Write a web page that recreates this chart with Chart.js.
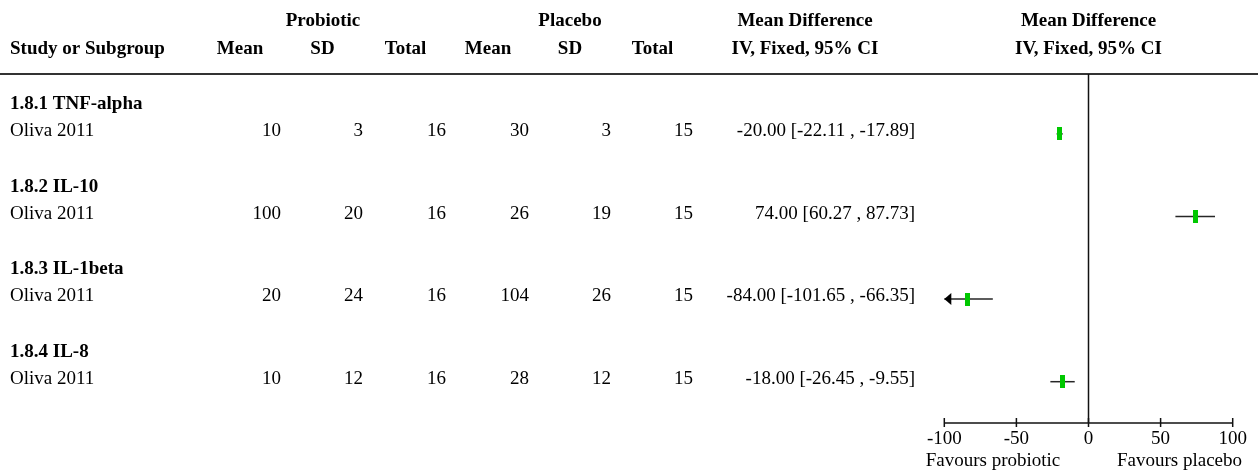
<!DOCTYPE html>
<html><head><meta charset="utf-8">
<script src="https://cdn.jsdelivr.net/npm/chart.js@4.4.1/dist/chart.umd.min.js"></script>
<style>
html,body{margin:0;padding:0;background:#fff}
#wrap{position:relative;width:1258px;height:472px}
</style>
</head><body>
<div id="wrap"><canvas id="c"></canvas></div>
<script>
// ---- data ----
const subgroups = ['1.8.1 TNF-alpha', '1.8.2 IL-10', '1.8.3 IL-1beta', '1.8.4 IL-8'];
const studies = ['Oliva 2011', 'Oliva 2011', 'Oliva 2011', 'Oliva 2011'];
const probMean = [10, 100, 20, 10];
const probSD = [3, 20, 24, 12];
const probTotal = [16, 16, 16, 16];
const placMean = [30, 26, 104, 28];
const placSD = [3, 19, 26, 12];
const placTotal = [15, 15, 15, 15];
const meanDiff = [-20.00, 74.00, -84.00, -18.00];
const ciLow = [-22.11, 60.27, -101.65, -26.45];
const ciHigh = [-17.89, 87.73, -66.35, -9.55];
const xTicks = [-100, -50, 0, 50, 100];
const favourLabels = ['Favours probiotic', 'Favours placebo'];

// ---- styles ----
const FONT = '"Liberation Serif", "Times New Roman", serif';
const GREEN = '#00c800';
const XMIN = -100, XMAX = 100;

const markerImg = document.createElement('canvas');
markerImg.width = 5; markerImg.height = 13;
(function(){ const g = markerImg.getContext('2d'); g.fillStyle = GREEN; g.fillRect(0,0,5,13); })();

const fmt = v => v.toFixed(2);

const datasets = [];
studies.forEach((s, i) => {
  datasets.push({
    type: 'line',
    data: [{x: Math.max(ciLow[i], XMIN), y: i}, {x: Math.min(ciHigh[i], XMAX), y: i}],
    borderColor: '#262626', borderWidth: 1.5, pointRadius: 0, showLine: true,
    order: 2, clip: false
  });
});
datasets.push({
  type: 'scatter',
  data: meanDiff.map((v, i) => ({x: v, y: i})),
  pointStyle: markerImg, pointRadius: 6, order: 0
});

const forestPlugin = {
  id: 'forest',
  beforeDatasetsDraw(chart) {
    const ctx = chart.ctx, xs = chart.scales.x, ca = chart.chartArea;
    ctx.save();
    // top rule
    ctx.strokeStyle = '#333'; ctx.lineWidth = 2;
    ctx.beginPath(); ctx.moveTo(0, ca.top); ctx.lineTo(chart.width, ca.top); ctx.stroke();
    // zero line
    const x0 = xs.getPixelForValue(0);
    ctx.strokeStyle = '#111'; ctx.lineWidth = 1.5;
    ctx.beginPath(); ctx.moveTo(x0, ca.top); ctx.lineTo(x0, ca.bottom); ctx.stroke();
    // axis line
    ctx.beginPath();
    ctx.moveTo(xs.getPixelForValue(XMIN), ca.bottom);
    ctx.lineTo(xs.getPixelForValue(XMAX), ca.bottom);
    ctx.stroke();
    xTicks.forEach(t => {
      const px = xs.getPixelForValue(t);
      ctx.beginPath(); ctx.moveTo(px, ca.bottom - 5); ctx.lineTo(px, ca.bottom + 4); ctx.stroke();
    });
    ctx.restore();
  },
  afterDatasetsDraw(chart) {
    const ctx = chart.ctx, xs = chart.scales.x, ys = chart.scales.y;
    ctx.save();
    ctx.fillStyle = '#000';
    studies.forEach((s, i) => {
      const py = ys.getPixelForValue(i);
      if (ciLow[i] < XMIN) {
        const px = xs.getPixelForValue(XMIN);
        ctx.beginPath(); ctx.moveTo(px, py); ctx.lineTo(px + 7, py - 6); ctx.lineTo(px + 7, py + 6); ctx.closePath(); ctx.fill();
      }
      if (ciHigh[i] > XMAX) {
        const px = xs.getPixelForValue(XMAX);
        ctx.beginPath(); ctx.moveTo(px, py); ctx.lineTo(px - 7, py - 6); ctx.lineTo(px - 7, py + 6); ctx.closePath(); ctx.fill();
      }
    });
    ctx.restore();
  },
  afterDraw(chart) {
    const ctx = chart.ctx, xs = chart.scales.x, ys = chart.scales.y;
    ctx.save();
    ctx.fillStyle = '#000';
    ctx.textBaseline = 'alphabetic';
    const txt = (s, x, y, align, bold) => {
      ctx.font = (bold ? 'bold ' : '') + '19px ' + FONT;
      ctx.textAlign = align; ctx.fillText(s, x, y);
    };
    const plotMid = (xs.getPixelForValue(XMIN) + xs.getPixelForValue(XMAX)) / 2;
    // headers
    txt('Probiotic', 323, 26, 'center', true);
    txt('Placebo', 570, 26, 'center', true);
    txt('Mean Difference', 805, 26, 'center', true);
    txt('Mean Difference', plotMid, 26, 'center', true);
    txt('Study or Subgroup', 10, 54, 'left', true);
    txt('Mean', 240, 54, 'center', true);
    txt('SD', 322.5, 54, 'center', true);
    txt('Total', 405.5, 54, 'center', true);
    txt('Mean', 488, 54, 'center', true);
    txt('SD', 570, 54, 'center', true);
    txt('Total', 652.5, 54, 'center', true);
    txt('IV, Fixed, 95% CI', 805, 54, 'center', true);
    txt('IV, Fixed, 95% CI', plotMid, 54, 'center', true);
    // rows
    studies.forEach((s, i) => {
      const py = ys.getPixelForValue(i);
      const by = py + 2.3;
      txt(subgroups[i], 10, py - 24.7, 'left', true);
      txt(s, 10, by, 'left', false);
      txt(String(probMean[i]), 281, by, 'right');
      txt(String(probSD[i]), 363, by, 'right');
      txt(String(probTotal[i]), 446, by, 'right');
      txt(String(placMean[i]), 529, by, 'right');
      txt(String(placSD[i]), 611, by, 'right');
      txt(String(placTotal[i]), 693, by, 'right');
      txt(fmt(meanDiff[i]) + ' [' + fmt(ciLow[i]) + ' , ' + fmt(ciHigh[i]) + ']', 915, by, 'right');
    });
    // favours labels
    txt(favourLabels[0], 993, 466, 'center');
    txt(favourLabels[1], 1179.5, 466, 'center');
    ctx.restore();
  }
};

new Chart(document.getElementById('c'), {
  data: { datasets },
  options: {
    responsive: true, maintainAspectRatio: false, animation: false,
    layout: { padding: { left: 944.3, right: 25.3, top: 74, bottom: 0 } },
    plugins: { legend: { display: false }, tooltip: { enabled: false } },
    scales: {
      x: {
        type: 'linear', min: XMIN, max: XMAX,
        afterBuildTicks: s => { s.ticks = xTicks.map(v => ({value: v})); },
        afterFit: s => { s.height = 49; },
        grid: { display: false, drawTicks: false },
        border: { display: false },
        ticks: { color: '#000', padding: 5, font: { family: FONT, size: 19 }, maxRotation: 0, autoSkip: false }
      },
      y: {
        type: 'linear', min: -0.725, max: 3.5, reverse: true, display: false
      }
    }
  },
  plugins: [forestPlugin]
});
</script>
</body></html>
